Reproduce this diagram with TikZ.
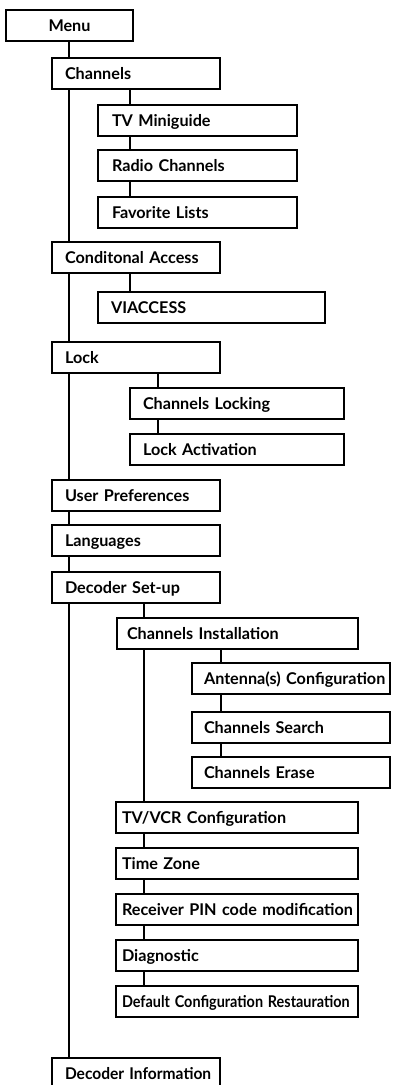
\documentclass[tikz,border=0pt]{standalone}
\usepackage{fontspec}
\setmainfont{Lato}
\tikzset{
  menubox/.style={draw, line width=2.8pt, fill=white, anchor=north west, outer sep=0pt,
    minimum height=31pt, inner ysep=0pt, text height=11.5pt, text depth=0pt, align=left,
    font=\fontsize{16.2}{18}\selectfont\bfseries},
  topitem/.style={menubox, inner xsep=13pt, text width=142pt},
  chanitem/.style={menubox, inner xsep=14pt, text width=171pt},
  lockitem/.style={menubox, inner xsep=13pt, text width=188pt},
  installitem/.style={menubox, inner xsep=12pt, text width=174pt},
  setupitem/.style={menubox, inner xsep=6pt, text width=230pt},
  link/.style={line width=2.8pt}
}
\begin{document}
\begin{tikzpicture}[x=1pt,y=-1pt]
        \useasboundingbox (0,0) rectangle (392,1085);
        % x of the vertical links
        \coordinate (trunk) at (69,0);
        \coordinate (chanx) at (130,0);
        \coordinate (lockx) at (158,0);
        \coordinate (setupx) at (144,0);
        \coordinate (installx) at (221,0);
        \node[menubox, inner xsep=6pt, text width=115pt, align=center] (menu) at (6,10) {Menu};
        \node[topitem] (channels) at (52,58) {Channels};
        \node[chanitem] (miniguide) at (98,105) {TV Miniguide};
        \node[chanitem] (radio) at (98,150) {Radio Channels};
        \node[chanitem] (favorites) at (98,197) {Favorite Lists};
        \node[topitem] (access) at (52,242) {Conditonal Access};
        \node[menubox, inner xsep=13pt, text width=201pt] (viaccess) at (98,292) {VIACCESS};
        \node[topitem] (lock) at (52,342) {Lock};
        \node[lockitem] (chlocking) at (130,388) {Channels Locking};
        \node[lockitem] (lockact) at (130,434) {Lock Activation};
        \node[topitem] (userpref) at (52,480) {User Preferences};
        \node[topitem] (languages) at (52,525) {Languages};
        \node[topitem] (setup) at (52,572) {Decoder Set-up};
        \node[menubox, inner xsep=10pt, text width=221pt] (install) at (117,618) {Channels Installation};
        \node[installitem] (antenna) at (192,663) {\mbox{Antenna(s) Configuration}};
        \node[installitem] (search) at (192,712) {Channels Search};
        \node[installitem] (erase) at (192,757) {Channels Erase};
        \node[setupitem] (tvvcr) at (116,802) {TV/VCR Configuration};
        \node[setupitem] (timezone) at (116,848) {Time Zone};
        \node[setupitem] (pincode) at (116,894) {\mbox{Receiver PIN code modification}};
        \node[setupitem] (diagnostic) at (116,940) {Diagnostic};
        \node[setupitem] (restore) at (116,986) {\scalebox{0.89}[1]{Default Configuration Restauration}};
        \node[topitem] (decinfo) at (52,1058) {\scalebox{0.96}[1]{Decoder Information}};
        % main trunk
        \draw[link] (menu.south -| trunk) -- (channels.north -| trunk);
        \draw[link] (channels.south -| trunk) -- (access.north -| trunk);
        \draw[link] (access.south -| trunk) -- (lock.north -| trunk);
        \draw[link] (lock.south -| trunk) -- (userpref.north -| trunk);
        \draw[link] (userpref.south -| trunk) -- (languages.north -| trunk);
        \draw[link] (languages.south -| trunk) -- (setup.north -| trunk);
        \draw[link] (setup.south -| trunk) -- (decinfo.north -| trunk);
        % Channels
        \draw[link] (channels.south -| chanx) -- (miniguide.north -| chanx);
        \draw[link] (miniguide.south -| chanx) -- (radio.north -| chanx);
        \draw[link] (radio.south -| chanx) -- (favorites.north -| chanx);
        % Conditonal Access
        \draw[link] (access.south -| chanx) -- (viaccess.north -| chanx);
        % Lock
        \draw[link] (lock.south -| lockx) -- (chlocking.north -| lockx);
        \draw[link] (chlocking.south -| lockx) -- (lockact.north -| lockx);
        % Decoder Set-up
        \draw[link] (setup.south -| setupx) -- (install.north -| setupx);
        \draw[link] (install.south -| setupx) -- (tvvcr.north -| setupx);
        \draw[link] (tvvcr.south -| setupx) -- (timezone.north -| setupx);
        \draw[link] (timezone.south -| setupx) -- (pincode.north -| setupx);
        \draw[link] (pincode.south -| setupx) -- (diagnostic.north -| setupx);
        \draw[link] (diagnostic.south -| setupx) -- (restore.north -| setupx);
        % Channels Installation
        \draw[link] (install.south -| installx) -- (antenna.north -| installx);
        \draw[link] (antenna.south -| installx) -- (search.north -| installx);
        \draw[link] (search.south -| installx) -- (erase.north -| installx);
\end{tikzpicture}
\end{document}
